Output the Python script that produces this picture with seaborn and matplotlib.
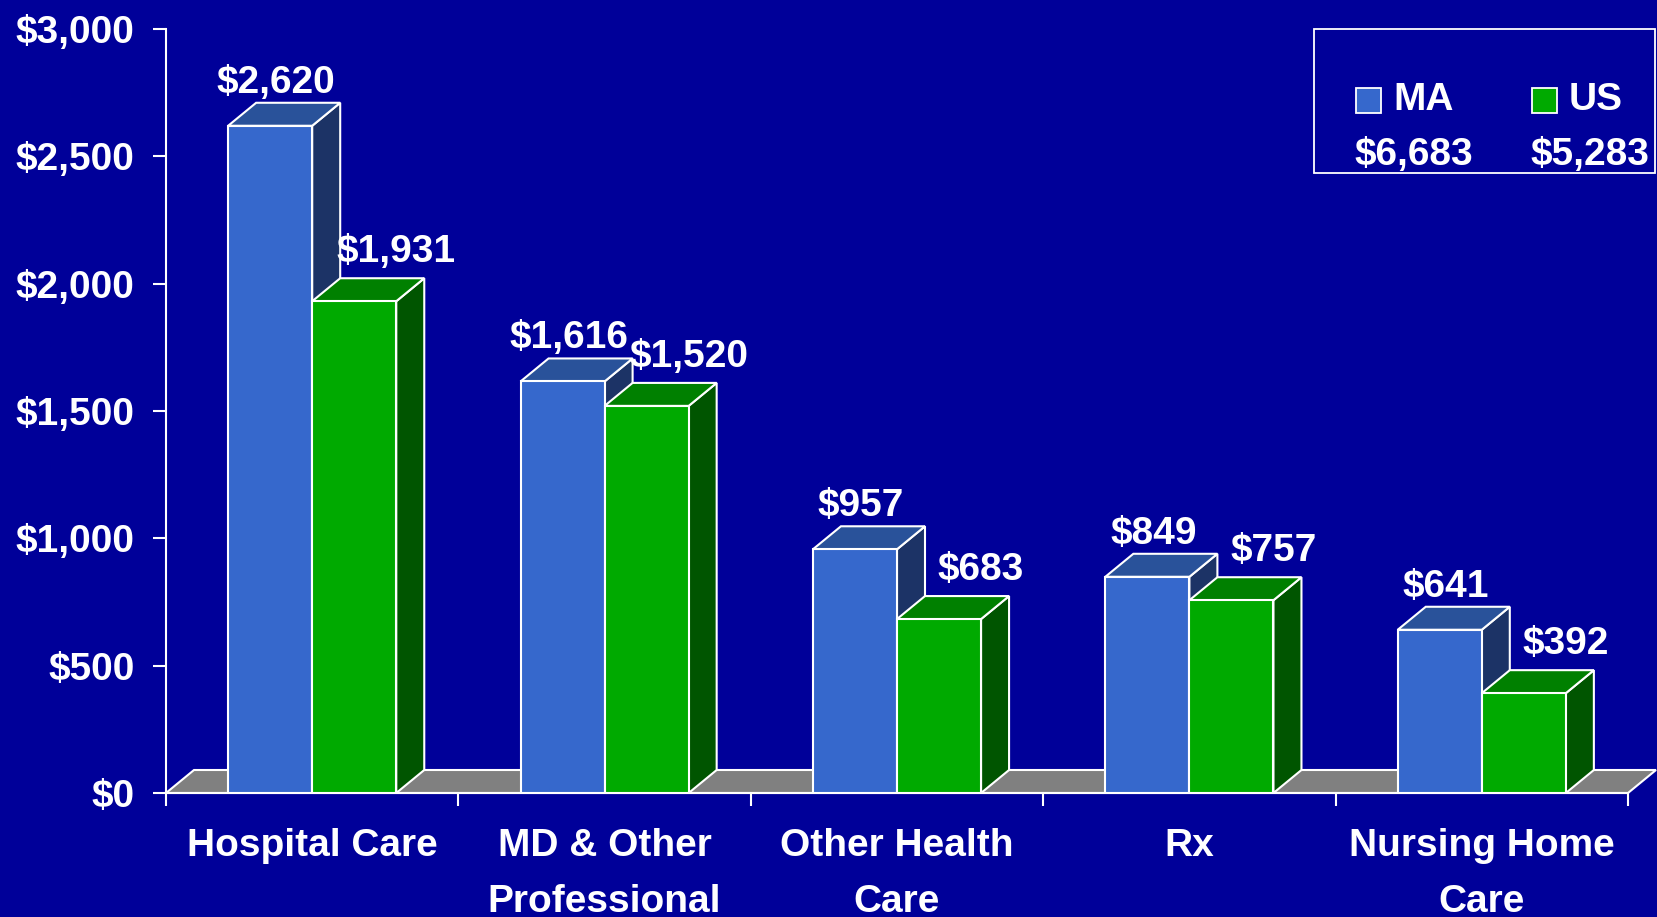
import pandas as pd
import matplotlib
matplotlib.use('Agg')
import matplotlib.pyplot as plt
from matplotlib.patches import Polygon, Rectangle
from matplotlib.ticker import StrMethodFormatter
import seaborn as sns


categories = ["Hospital Care", "MD & Other\nProfessional", "Other Health\nCare",
              "Rx", "Nursing Home\nCare"]
series = ["MA", "US"]
ma_values = [2620, 1616, 957, 849, 641]
us_values = [1931, 1520, 683, 757, 392]
y_ticks = [0, 500, 1000, 1500, 2000, 2500, 3000]

BG = "#000099"
FRONT = {"MA": "#3668CC", "US": "#00AA00"}
TOP = {"MA": "#29529A", "US": "#008000"}
SIDE = {"MA": "#1C3366", "US": "#005500"}
FLOOR = "#808080"
FS = 28

W_PX, H_PX = 1658, 917
DEPTH_PX = (28, 23)   # 3d offset of the back faces, in pixels

df = pd.DataFrame({
    "category": categories * 2,
    "series": ["MA"] * len(categories) + ["US"] * len(categories),
    "value": ma_values + us_values,
})

sns.set_style("white")
plt.rcParams["font.family"] = ["Liberation Sans", "DejaVu Sans"]
plt.rcParams["font.weight"] = "bold"

fig = plt.figure(figsize=(W_PX / 100, H_PX / 100), dpi=100, facecolor=BG)
ax = fig.add_axes([166 / W_PX, 1 - 793 / H_PX, (1628 - 166) / W_PX, (793 - 29) / H_PX])
ax.set_facecolor(BG)

sns.barplot(data=df, x="category", y="value", hue="series", hue_order=series,
            order=categories, palette=FRONT, saturation=1, width=0.575,
            errorbar=None, edgecolor="white", linewidth=1.5, legend=False, ax=ax)

ax.set_xlim(-0.5, len(categories) - 0.5)
ax.set_ylim(0, 3000)

# convert the pixel depth into data units
ddx = DEPTH_PX[0] / ((1628 - 166) / len(categories))
ddy = DEPTH_PX[1] / ((793 - 29) / 3000)

# floor
x0, x1 = -0.5, len(categories) - 0.5
ax.add_patch(Polygon([(x0, 0), (x1, 0), (x1 + ddx, ddy), (x0 + ddx, ddy)],
                     closed=True, facecolor=FLOOR, edgecolor="white",
                     linewidth=1.5, zorder=1, clip_on=False))

for k, (name, cont) in enumerate(zip(series, ax.containers)):
    z = 2 + 2 * k
    for bar in cont:
        bx, bw, bh = bar.get_x(), bar.get_width(), bar.get_height()
        bar.set_zorder(z + 1)
        side = Polygon([(bx + bw, 0), (bx + bw + ddx, ddy), (bx + bw + ddx, bh + ddy), (bx + bw, bh)],
                       closed=True, facecolor=SIDE[name], edgecolor="white",
                       linewidth=1.5, zorder=z, clip_on=False)
        top = Polygon([(bx, bh), (bx + bw, bh), (bx + bw + ddx, bh + ddy), (bx + ddx, bh + ddy)],
                      closed=True, facecolor=TOP[name], edgecolor="white",
                      linewidth=1.5, zorder=z, clip_on=False)
        ax.add_patch(side)
        ax.add_patch(top)
        off = (6, 10) if name == "MA" else (42, 16)
        ax.annotate(f"${bh:,.0f}", xy=(bx + bw / 2, bh + ddy), xytext=off,
                    textcoords="offset pixels", ha="center", va="baseline",
                    color="white", fontsize=FS, fontweight="bold", zorder=10)

# axes styling
for s in ["top", "right"]:
    ax.spines[s].set_visible(False)
for s in ["left", "bottom"]:
    ax.spines[s].set_color("white")
    ax.spines[s].set_linewidth(1.5)

ax.set_yticks(y_ticks)
ax.yaxis.set_major_formatter(StrMethodFormatter("${x:,.0f}"))
ax.tick_params(axis="y", colors="white", length=9.5, width=1.5, pad=13,
               labelsize=FS, direction="out", left=True)
ax.set_xticks(range(len(categories)))
ax.set_xticklabels(categories, linespacing=1.72)
ax.set_xticks([i - 0.5 for i in range(len(categories) + 1)], minor=True)
ax.tick_params(axis="x", which="major", length=0, pad=25, colors="white", labelsize=FS)
ax.tick_params(axis="x", which="minor", length=9.5, width=1.5, color="white", bottom=True)
for lbl in ax.get_xticklabels() + ax.get_yticklabels():
    lbl.set_fontweight("bold")
ax.set_xlabel("")
ax.set_ylabel("")

# legend box with totals
def fx(px):
    return px / W_PX


def fy(py):
    return 1 - py / H_PX


fig.add_artist(Rectangle((fx(1314), fy(173)), fx(1655) - fx(1314), fy(29) - fy(173),
                         transform=fig.transFigure, facecolor="none",
                         edgecolor="white", linewidth=1.3))
totals = [sum(ma_values), sum(us_values)]
for name, total, sx in zip(series, totals, [1356, 1532]):
    fig.add_artist(Rectangle((fx(sx), fy(113)), fx(25), 25 / H_PX,
                             transform=fig.transFigure, facecolor=FRONT[name],
                             edgecolor="white", linewidth=1.3))
    fig.text(fx(sx + 37), fy(100), name, color="white", fontsize=FS,
             fontweight="bold", ha="left", va="center")
    fig.text(fx(sx - 2), fy(155), f"${total:,.0f}", color="white", fontsize=FS,
             fontweight="bold", ha="left", va="center")

fig.savefig("out.png", dpi=100, facecolor=BG)
